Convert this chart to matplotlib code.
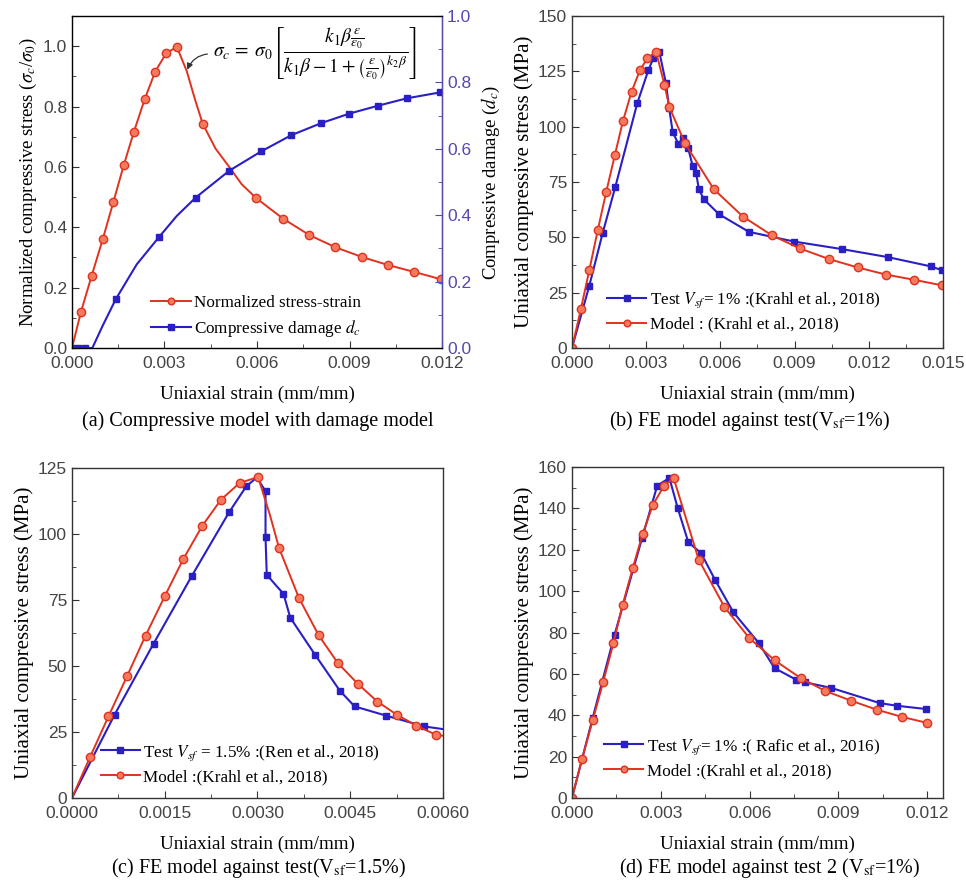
import matplotlib
matplotlib.use('Agg')
import matplotlib.pyplot as plt
from matplotlib.ticker import MultipleLocator, FormatStrFormatter

# sans for tick numbers, serif (Times-like) for all the words
plt.rcParams['font.family'] = ['Liberation Sans', 'DejaVu Sans']
plt.rcParams['mathtext.fontset'] = 'stix'
SERIF = 'Liberation Serif'

RED = '#e0321f'
RED_FACE = '#f47a5e'
BLUE = '#2a1fc4'
AX2 = '#5548b0'

# (a) normalized stress-strain and compressive damage
a_red_strain = [0.0, 0.00029, 0.00064, 0.00100, 0.00134, 0.00168, 0.00201, 0.00236, 0.00270, 0.00305,
                0.00340, 0.00372, 0.00400, 0.00424, 0.00466, 0.00510, 0.00550, 0.00597, 0.00684,
                0.00770, 0.00854, 0.00942, 0.01025, 0.01110, 0.01196, 0.0120]
a_red_stress = [0.0, 0.119, 0.240, 0.361, 0.483, 0.606, 0.717, 0.825, 0.916, 0.976,
                0.998, 0.918, 0.820, 0.743, 0.660, 0.600, 0.543, 0.497, 0.429,
                0.374, 0.334, 0.301, 0.275, 0.252, 0.228, 0.227]
a_red_marks = [1, 2, 3, 4, 5, 6, 7, 8, 9, 10, 13, 17, 18, 19, 20, 21, 22, 23, 24]
a_blue_strain = [0.0, 0.00020, 0.00041, 0.00066, 0.00100, 0.00142, 0.00210, 0.00283, 0.00340, 0.00401,
                 0.00510, 0.00613, 0.00711, 0.00807, 0.00899, 0.00993, 0.01085, 0.01194]
a_blue_dmg = [0.0, 0.0, 0.0, 0.0, 0.068, 0.147, 0.252, 0.335, 0.398, 0.453,
              0.534, 0.592, 0.641, 0.677, 0.706, 0.730, 0.752, 0.770]
a_blue_marks = [0, 1, 2, 5, 7, 9, 10, 11, 12, 13, 14, 15, 16, 17]

# (b) Vsf = 1 %, Krahl et al. 2018
b_test_strain = [0.0, 0.00070, 0.00124, 0.00175, 0.00264, 0.00309, 0.00329, 0.00353, 0.00380, 0.00393,
                 0.00407, 0.00430, 0.00450, 0.00470, 0.00488, 0.00502, 0.00513, 0.00533, 0.00594,
                 0.00715, 0.00898, 0.01091, 0.01276, 0.01450, 0.01497]
b_test_stress = [0.0, 28.1, 51.9, 72.7, 110.6, 125.6, 130.9, 133.9, 119.6, 108.3,
                 97.7, 92.2, 94.8, 90.2, 82.2, 79.0, 71.8, 67.2, 60.5,
                 52.5, 48.1, 44.7, 41.1, 36.9, 35.1]
b_model_strain = [0.0, 0.00036, 0.00070, 0.00104, 0.00138, 0.00173, 0.00206, 0.00241, 0.00275, 0.00305,
                  0.00340, 0.00374, 0.00394, 0.00457, 0.00573, 0.00691, 0.00807, 0.00921, 0.01039,
                  0.01155, 0.01269, 0.01384, 0.01497]
b_model_stress = [0.0, 17.6, 35.1, 53.1, 70.3, 87.0, 102.5, 115.8, 125.6, 130.9,
                  133.9, 118.9, 108.8, 92.5, 71.8, 59.4, 51.0, 45.0, 40.2,
                  36.4, 33.2, 30.8, 28.3]

# (c) Vsf = 1.5 %, Ren et al. 2018
c_test_strain = [0.0, 0.00069, 0.00132, 0.00194, 0.00254, 0.00282, 0.00299, 0.00313, 0.00313, 0.00315,
                 0.00330, 0.00342, 0.00353, 0.00393, 0.00433, 0.00457, 0.00508, 0.00570, 0.00600]
c_test_stress = [0.0, 31.6, 58.5, 84.2, 108.2, 118.1, 121.4, 116.2, 98.7, 84.6,
                 80.5, 77.4, 68.3, 54.3, 40.7, 34.7, 31.2, 27.1, 26.1]
c_test_marks = [1, 2, 3, 4, 5, 7, 8, 9, 11, 12, 13, 14, 15, 16, 17]
c_model_strain = [0.0, 0.00029, 0.00059, 0.00089, 0.00119, 0.00150, 0.00180, 0.00211, 0.00241, 0.00271,
                  0.00301, 0.00320, 0.00335, 0.00367, 0.00399, 0.00430, 0.00462, 0.00494, 0.00525,
                  0.00557, 0.00589, 0.00600]
c_model_stress = [0.0, 15.4, 30.9, 46.1, 61.5, 76.4, 90.5, 103.2, 113.0, 119.3,
                  121.6, 107.3, 94.6, 75.8, 61.6, 51.1, 43.3, 36.5, 31.6,
                  27.4, 23.9, 23.6]
c_model_marks = [1, 2, 3, 4, 5, 6, 7, 8, 9, 10, 12, 13, 14, 15, 16, 17, 18, 19, 20]

# (d) Vsf = 1 %, Rafic et al. 2016
d_test_strain = [0.0, 0.00070, 0.00144, 0.00237, 0.00288, 0.00329, 0.00357, 0.00393, 0.00436, 0.00483,
                 0.00545, 0.00631, 0.00684, 0.00757, 0.00788, 0.00876, 0.01039, 0.01097, 0.01197]
d_test_stress = [0.0, 38.7, 79.0, 125.7, 151.0, 154.7, 140.2, 123.6, 118.4, 105.5,
                 89.8, 74.9, 62.8, 57.2, 55.9, 53.2, 45.9, 44.6, 43.0]
d_model_strain = [0.0, 0.00034, 0.00070, 0.00105, 0.00140, 0.00171, 0.00205, 0.00239, 0.00273, 0.00310,
                  0.00343, 0.00428, 0.00515, 0.00599, 0.00685, 0.00772, 0.00856, 0.00942, 0.01029,
                  0.01115, 0.01200]
d_model_stress = [0.0, 18.9, 37.5, 55.9, 74.9, 93.3, 111.0, 127.8, 141.6, 150.7,
                  154.8, 115.2, 92.3, 77.3, 66.5, 58.0, 51.7, 47.1, 42.7,
                  39.2, 36.3]

XLBL = 13.8
YLBL = 15
TICK = 12.5
LEG = dict(family=SERIF, size=12.3)


def style_axis(ax, xmaj, ymaj, xfmt, yfmt):
    ax.xaxis.set_major_locator(MultipleLocator(xmaj))
    ax.xaxis.set_minor_locator(MultipleLocator(xmaj / 2))
    ax.yaxis.set_major_locator(MultipleLocator(ymaj))
    ax.yaxis.set_minor_locator(MultipleLocator(ymaj / 2))
    ax.xaxis.set_major_formatter(FormatStrFormatter(xfmt))
    ax.yaxis.set_major_formatter(FormatStrFormatter(yfmt))
    ax.tick_params(which='both', direction='in', top=False, labelsize=TICK,
                   colors='#333333', labelcolor='#444444')
    ax.tick_params(axis='x', pad=6)
    ax.tick_params(which='major', length=5)
    ax.tick_params(which='minor', length=3)
    for s in ax.spines.values():
        s.set_color('#333333')
        s.set_linewidth(1.0)
    ax.set_xlabel('Uniaxial strain (mm/mm)', fontsize=XLBL, family=SERIF, labelpad=10)


def red_line(ax, x, y, label, marks=None):
    ax.plot(x, y, color=RED, lw=1.4, marker='o', ms=6, mfc=RED_FACE, mec=RED, mew=1.0,
            markevery=marks, label=label)


def blue_line(ax, x, y, label, marks=None):
    ax.plot(x, y, color=BLUE, lw=1.5, marker='s', ms=5, mfc=BLUE, mec=BLUE,
            markevery=marks, label=label)


def add_legend(ax, handles, labels, x0, ymid):
    ax.legend(handles, labels, loc='center left', bbox_to_anchor=(x0, ymid), frameon=False,
              prop=LEG, handlelength=2.3, handletextpad=0.2, labelspacing=0.38, markerscale=0.8)


fig = plt.figure(figsize=(9.66, 8.86), dpi=100)
axa = fig.add_axes([0.0745, 0.6072, 0.3831, 0.3747])
axb = fig.add_axes([0.5921, 0.6072, 0.3841, 0.3747])
axc = fig.add_axes([0.0745, 0.0993, 0.3841, 0.3725])
axd = fig.add_axes([0.5921, 0.0993, 0.3841, 0.3736])

# ---- (a)
red_line(axa, a_red_strain, a_red_stress, 'Normalized stress-strain', a_red_marks)
axa.set_xlim(0, 0.012)
axa.set_ylim(0, 1.1)
style_axis(axa, 0.003, 0.2, '%.3f', '%.1f')
axa.set_ylabel(r'Normalized compressive stress ($\sigma_c$/$\sigma_0$)', fontsize=13.5,
               family=SERIF, labelpad=3)
axa2 = axa.twinx()
blue_line(axa2, a_blue_strain, a_blue_dmg, r'Compressive damage $d_c$', a_blue_marks)
axa2.set_ylim(0, 1.0)
axa2.yaxis.set_major_locator(MultipleLocator(0.2))
axa2.yaxis.set_minor_locator(MultipleLocator(0.1))
axa2.yaxis.set_major_formatter(FormatStrFormatter('%.1f'))
axa2.tick_params(which='both', direction='in', labelsize=TICK, colors=AX2)
axa2.tick_params(which='major', length=5)
axa2.tick_params(which='minor', length=3)
axa2.spines['right'].set_color(AX2)
axa2.set_ylabel(r'Compressive damage ($d_c$)', fontsize=13.5, family=SERIF, labelpad=6)
h1, l1 = axa.get_legend_handles_labels()
h2, l2 = axa2.get_legend_handles_labels()
add_legend(axa2, h1 + h2, l1 + l2, 0.173, 0.093)
axa.annotate(r'$\sigma_c\,=\;\sigma_0\left[\dfrac{k_1\beta\frac{\varepsilon}{\varepsilon_0}}'
             r'{k_1\beta-1+\left(\frac{\varepsilon}{\varepsilon_0}\right)^{k_2\beta}}\right]$',
             xy=(0.00372, 0.918), xytext=(0.00457, 0.975), fontsize=14, va='center', ha='left',
             arrowprops=dict(arrowstyle='-|>', color='#333333', lw=0.9, relpos=(0.0, 0.5),
                             connectionstyle='arc3,rad=0.35', mutation_scale=9, shrinkB=1))

# ---- (b)
blue_line(axb, b_test_strain, b_test_stress, r'Test $V_{sf}$= 1% :(Krahl et al., 2018)')
red_line(axb, b_model_strain, b_model_stress, 'Model : (Krahl et al., 2018)')
axb.set_xlim(0, 0.015)
axb.set_ylim(0, 150)
style_axis(axb, 0.003, 25, '%.3f', '%d')
axb.set_ylabel('Uniaxial compressive stress (MPa)', fontsize=YLBL, family=SERIF, labelpad=3)
add_legend(axb, *axb.get_legend_handles_labels(), 0.053, 0.11)

# ---- (c)
blue_line(axc, c_test_strain, c_test_stress, r'Test $V_{sf}$ = 1.5% :(Ren et al., 2018)', c_test_marks)
red_line(axc, c_model_strain, c_model_stress, 'Model :(Krahl et al., 2018)', c_model_marks)
axc.set_xlim(0, 0.006)
axc.set_ylim(0, 125)
style_axis(axc, 0.0015, 25, '%.4f', '%d')
axc.set_ylabel('Uniaxial compressive stress (MPa)', fontsize=YLBL, family=SERIF, labelpad=3)
add_legend(axc, *axc.get_legend_handles_labels(), 0.036, 0.103)

# ---- (d)
blue_line(axd, d_test_strain, d_test_stress, r'Test $V_{sf}$= 1% :( Rafic et al., 2016)')
red_line(axd, d_model_strain, d_model_stress, 'Model :(Krahl et al., 2018)')
axd.set_xlim(0, 0.01253)
axd.set_ylim(0, 160)
style_axis(axd, 0.003, 20, '%.3f', '%d')
axd.set_ylabel('Uniaxial compressive stress (MPa)', fontsize=YLBL, family=SERIF, labelpad=3)
add_legend(axd, *axd.get_legend_handles_labels(), 0.045, 0.121)

# captions
CAP = dict(fontsize=14.5, family=SERIF, ha='center', va='center')
fig.text(258 / 966, 1 - 421 / 886, '(a) Compressive model with damage model', **CAP)
fig.text(749 / 966, 1 - 421 / 886, r'(b) FE model against test(V$_{\rm sf}$=1%)', **CAP)
fig.text(258 / 966, 1 - 868 / 886, r'(c) FE model against test(V$_{\rm sf}$=1.5%)', **CAP)
fig.text(770 / 966, 1 - 868 / 886, r'(d) FE model against test 2 (V$_{\rm sf}$=1%)', **CAP)

fig.savefig('out.png', dpi=100)
